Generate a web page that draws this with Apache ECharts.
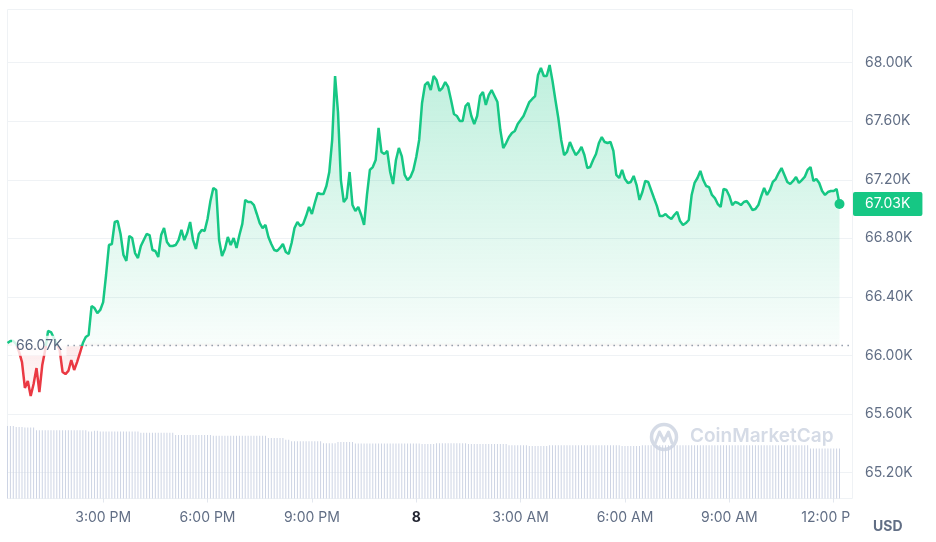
<!DOCTYPE html>
<html><head><meta charset="utf-8">
<script src="https://cdn.jsdelivr.net/npm/echarts@6/dist/echarts.min.js"></script>
<style>html,body{margin:0;padding:0;background:#fff}#c{width:936px;height:542px}</style>
</head><body><div id="c"></div>
<script>
// Time grid: first sample at 12:15 PM, one sample every 5 minutes (hours since midnight of day 7)
const startHour = 12.25;
const stepMinutes = 5;

// BTC price in USD, 5-minute samples
const prices = [
66084,66098,66098,66077,66023,65954,65777,65824,65722,65804,
65913,65749,65934,66036,66166,66159,66118,66077,66036,65886,
65872,65893,65968,65900,65954,66016,66084,66125,66139,66337,
66323,66289,66310,66364,66549,66754,66761,66911,66918,66829,
66686,66645,66816,66802,66699,66665,66747,66788,66829,66822,
66720,66713,66672,66822,66870,66775,66747,66747,66754,66788,
66857,66788,66836,66911,66788,66727,66829,66857,66850,66932,
67055,67144,67130,66788,66679,66727,66809,66754,66802,66734,
66822,66898,67062,67048,67048,67027,66966,66904,66870,66891,
66809,66761,66720,66713,66734,66761,66706,66693,66768,66870,
66911,66884,66898,66952,67014,66966,67041,67109,67103,67103,
67157,67253,67472,67909,67663,67198,67048,67075,67253,67027,
66986,67014,66959,66891,67096,67267,67287,67335,67554,67390,
67376,67397,67253,67171,67335,67417,67362,67233,67198,67219,
67267,67356,67472,67725,67848,67868,67813,67909,67882,67807,
67827,67868,67834,67745,67649,67636,67602,67602,67704,67725,
67636,67581,67636,67772,67800,67711,67779,67813,67772,67731,
67540,67417,67451,67492,67520,67533,67581,67608,67636,67684,
67731,67752,67772,67916,67964,67909,67909,67984,67875,67745,
67622,67472,67369,67390,67458,67410,67369,67390,67424,67369,
67280,67287,67335,67376,67451,67492,67458,67451,67458,67397,
67233,67212,67267,67205,67178,67185,67226,67164,67062,67116,
67192,67185,67130,67075,67021,66952,66952,66966,66945,66932,
66959,66980,66918,66891,66904,66925,67096,67178,67212,67260,
67198,67157,67150,67096,67075,67034,67014,67137,67130,67089,
67027,67048,67041,67027,67048,67055,67027,66993,67000,67027,
67089,67144,67096,67130,67185,67205,67246,67280,67233,67185,
67171,67192,67219,67178,67198,67219,67267,67287,67192,67205,
67178,67123,67096,67116,67123,67123,67137,67034
];

// Volume (billions USD, rolling 24h), 5-minute samples
const volumes = [
23.7,23.7,23.7,23.4,23.4,23.4,23.2,23.2,23.2,23.2,
22.3,22.3,22.3,22.3,22.3,22.3,22.3,22.3,22.3,22.3,
22.3,22.3,22.3,22.3,22.3,22.3,22.3,22.3,21.9,21.9,
22.2,22.2,21.9,21.9,21.9,21.9,21.9,21.9,21.9,21.9,
21.9,21.9,21.9,21.9,21.9,21.9,21.5,21.5,21.5,21.5,
21.5,21.5,21.5,21.5,21.5,21.5,21.5,21.5,20.8,20.8,
20.8,20.8,20.8,20.8,20.8,20.8,20.8,20.8,20.8,20.8,
20.8,20.5,20.5,20.5,20.5,20.5,20.5,20.5,20.5,20.5,
20.5,20.5,20.5,20.5,20.5,20.5,20.5,20.5,20.5,20.5,
19.8,19.8,19.8,19.8,19.8,19.8,19.2,19.2,18.7,18.7,
18.7,18.7,18.7,18.7,18.7,18.7,18.7,18.7,18.7,18.1,
18.1,18.1,18.1,18.1,18.5,18.5,18.5,18.5,18.5,18.5,
18.0,18.0,18.0,18.0,18.0,18.0,18.0,18.0,18.0,18.0,
18.0,18.0,18.0,18.0,18.0,18.0,18.0,18.0,18.0,18.0,
18.0,18.0,18.0,17.8,17.8,17.8,17.8,17.8,18.1,18.1,
18.1,18.1,18.1,18.1,18.1,18.1,18.1,18.1,18.1,17.8,
17.8,17.8,17.8,17.8,17.8,17.8,17.8,17.8,17.8,17.8,
17.8,17.8,17.8,17.4,17.4,17.4,17.4,17.4,17.4,17.4,
17.2,17.2,17.2,17.2,17.2,17.2,17.2,17.4,17.4,17.4,
17.4,17.4,17.4,17.4,17.4,17.4,17.4,17.4,17.4,17.4,
17.4,17.4,17.4,17.4,17.4,17.4,17.4,17.4,17.4,17.4,
17.4,17.4,17.2,17.2,17.2,17.2,17.2,17.2,17.2,17.4,
17.4,17.4,17.4,17.4,17.4,17.4,17.4,17.4,17.4,17.4,
17.4,17.4,17.4,17.4,17.4,17.4,17.4,17.4,17.4,17.4,
17.4,17.4,17.4,17.4,17.4,17.4,17.4,17.4,17.4,17.4,
17.4,17.4,17.4,17.4,17.4,17.4,17.4,17.4,17.4,17.4,
17.4,17.4,17.4,17.4,17.4,17.4,17.4,17.4,17.4,17.4,
17.4,17.4,17.4,17.4,17.4,17.4,17.4,16.4,16.4,16.4,
16.4,16.4,16.4,16.4,16.4,16.4,16.4,16.4
];

const baseline = 66066; // opening price reference line
const tickHours = [15, 18, 21, 24, 27, 30, 33, 36];
const tickLabels = ['3:00 PM', '6:00 PM', '9:00 PM', '8', '3:00 AM', '6:00 AM', '9:00 AM', '12:00 P'];
const priceMin = 64800, priceMax = 68400, priceStep = 400;

const FONT = 'Inter, "Noto Sans", sans-serif';
const GREEN = '#16c784', RED = '#ea3943', LABEL = '#616e85', GRIDC = '#eff2f5';
const xMin = 12.25, xMax = 36.54;
const H = 542, priceTop = 4.18, priceBottom = 11.1;

const hourAt = i => startHour + i * stepMinutes / 60;
const priceData = prices.map((p, i) => [hourAt(i), p]);
const volData = volumes.map((v, i) => [hourAt(i), v]);
const last = priceData[priceData.length - 1];
const fmtK = v => (v / 1000).toFixed(2) + 'K';

const splitColors = [];
for (let v = priceMin; v <= priceMax; v += priceStep) {
  splitColors.push(v === priceMin || v === priceMax ? 'rgba(0,0,0,0)' : GRIDC);
}

const chart = echarts.init(document.getElementById('c'), null, {renderer: 'canvas'});

function build() {
  // pixel row of the baseline, obtained from the price axis itself
  let baseY = chart.convertToPixel({xAxisIndex: 1, yAxisIndex: 1}, [xMin, baseline]);
  baseY = baseY ? baseY[1] : 345.7;
  const off = baseY / H;
  chart.setOption({
    series: [{}, {
      lineStyle: {
        width: 2.5,
        color: {type: 'linear', x: 0, y: 0, x2: 0, y2: H, global: true,
          colorStops: [{offset: 0, color: GREEN}, {offset: off, color: GREEN}, {offset: off, color: RED}, {offset: 1, color: RED}]}
      },
      areaStyle: {
        origin: baseline, opacity: 1,
        color: {
          type: 'linear', x: 0, y: 60, x2: 0, y2: 400, global: true,
          colorStops: [
            {offset: 0, color: 'rgba(22,199,132,0.28)'},
            {offset: (baseY - 64) / 340, color: 'rgba(22,199,132,0.03)'},
            {offset: (baseY - 58) / 340, color: 'rgba(234,57,67,0.10)'},
            {offset: 1, color: 'rgba(234,57,67,0.02)'}
          ]
        }
      }
    }]
  });
}

chart.setOption({
  animation: false,
  textStyle: {fontFamily: FONT},
  grid: [
    {left: 7.5, right: 83.5, top: 9.5, bottom: 43.5, show: true, borderColor: GRIDC, borderWidth: 1},
    {left: 7.5, right: 83.5, top: priceTop, bottom: priceBottom}
  ],
  xAxis: [
    {
      type: 'value', gridIndex: 0, min: xMin, max: xMax,
      splitLine: {show: false}, axisLine: {show: false},
      axisTick: {show: true, customValues: tickHours, length: 4, lineStyle: {color: '#e3e7ee'}},
      axisLabel: {
        customValues: tickHours, margin: 12, color: LABEL, fontSize: 14, fontFamily: FONT,
        formatter: v => {
          const i = tickHours.indexOf(Math.round(v));
          const t = i >= 0 ? tickLabels[i] : '';
          if (t === '8') return '{b|8}';
          if (i === tickHours.length - 1) return '{e|' + t + '}';
          return t;
        },
        rich: {
          b: {fontWeight: 'bold', color: '#222531', fontSize: 14, fontFamily: FONT},
          e: {color: LABEL, fontSize: 14, fontFamily: FONT, padding: [0, 16, 0, 0]}
        }
      }
    },
    {type: 'value', gridIndex: 1, min: xMin, max: xMax, show: false}
  ],
  yAxis: [
    {type: 'value', gridIndex: 0, min: 0, max: 160, show: false},
    {
      type: 'value', gridIndex: 1, position: 'right',
      min: priceMin, max: priceMax, interval: priceStep,
      axisLine: {show: false}, axisTick: {show: false},
      splitLine: {show: true, lineStyle: {color: splitColors, width: 1}},
      axisLabel: {
        margin: 12.5, color: LABEL, fontSize: 14, fontFamily: FONT,
        formatter: v => (v === priceMin || v === priceMax) ? '' : fmtK(v)
      }
    }
  ],
  series: [
    {
      type: 'bar', xAxisIndex: 0, yAxisIndex: 0, data: volData,
      barWidth: 1, itemStyle: {color: '#cdd4e4'}, silent: true
    },
    {
      type: 'line', xAxisIndex: 1, yAxisIndex: 1, data: priceData,
      showSymbol: false, symbol: 'none', z: 3,
      lineStyle: {width: 2.5, color: GREEN},
      areaStyle: {origin: baseline, opacity: 1, color: 'rgba(22,199,132,0.1)'},
      markLine: {
        silent: true, symbol: 'none', animation: false,
        data: [
          [
            {
              coord: [13.975, baseline],
              lineStyle: {color: '#808a9d', width: 1.3, type: [1.3, 4.7]},
              label: {
                show: true, position: 'start', distance: 1,
                formatter: () => fmtK(baseline),
                color: '#58667e', fontSize: 14, fontFamily: FONT,
                backgroundColor: 'rgba(255,255,255,0.8)', padding: [3, 4]
              }
            },
            {coord: [xMax, baseline]}
          ],
          [
            {
              coord: [xMin, last[1]],
              lineStyle: {color: 'rgba(0,0,0,0)', width: 1},
              label: {
                show: true, position: 'end', distance: 0.5, opacity: 1,
                formatter: () => fmtK(last[1]),
                color: '#ffffff', fontSize: 14, fontFamily: FONT, lineHeight: 16,
                backgroundColor: GREEN, padding: [4, 12, 4, 12], borderRadius: 2
              }
            },
            {coord: [xMax, last[1]]}
          ]
        ]
      },
      markPoint: {
        silent: true, animation: false,
        data: [{coord: last, symbol: 'circle', symbolSize: 10, itemStyle: {color: GREEN}, label: {show: false}}]
      }
    }
  ],
  graphic: [
    {
      type: 'group', z: 0, silent: true,
      children: [
        {type: 'circle', shape: {cx: 664, cy: 437, r: 12.5}, style: {fill: 'none', stroke: '#d5dbe6', lineWidth: 3.5}},
        {type: 'polyline', shape: {points: [[655, 444], [659.5, 432], [664, 441], [668.5, 432], [672, 443]]},
          style: {fill: 'none', stroke: '#d5dbe6', lineWidth: 3, lineJoin: 'round', lineCap: 'round'}},
        {type: 'text', x: 690, y: 427, style: {text: 'CoinMarketCap', font: '600 19px Inter, "Noto Sans", sans-serif', fill: '#d5dbe6'}}
      ]
    },
    {type: 'text', x: 873, y: 520, z: 10, style: {text: 'USD', font: 'bold 14px Inter, "Noto Sans", sans-serif', fill: LABEL}}
  ]
});
build();
</script>
</body></html>
